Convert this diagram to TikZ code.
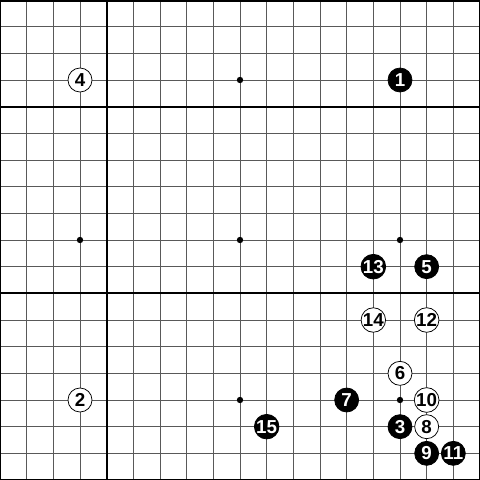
\documentclass[tikz,border=0pt]{standalone}
\usepackage{fontspec}
\setsansfont{Liberation Sans}
\usetikzlibrary{positioning}
\tikzset{
	gridline/.style={draw=black!65,line width=0.5pt},
	boldline/.style={draw=black,line width=0.9pt},
	stonetext/.style={font=\sffamily\bfseries\fontsize{10}{10}\selectfont},
	blackstone/.style={circle,fill=black,draw=black,text=white,inner sep=0pt,minimum size=0.45cm,stonetext},
	whitestone/.style={circle,fill=white,draw=black,line width=0.4pt,text=black,inner sep=0pt,minimum size=0.45cm,stonetext}
}
\begin{document}
\begin{tikzpicture}[x=0.5cm,y=-0.5cm]
		\useasboundingbox (0,0) rectangle (18,18);
		\fill[white] (0,0) rectangle (18,18);
		\foreach \i in {1,...,17}{
			\draw[gridline] (\i,0) -- (\i,18);
			\draw[gridline] (0,\i) -- (18,\i);
		}
		\draw[boldline] (4,0) -- (4,18);
		\draw[boldline] (0,4) -- (18,4);
		\draw[boldline] (0,11) -- (18,11);
		\draw[boldline,line width=1.6pt] (0,0) rectangle (18,18);
		\foreach \c in {3,9,15}
			\foreach \r in {3,9,15}
				\fill (\c,\r) circle (1.7pt);
		
		\foreach \n/\c/\r in {1/15/3,3/15/16,5/16/10,7/13/15,9/16/17,11/17/17,13/14/10,15/10/16}
			\node[blackstone] (s\n) at (\c,\r) {\n};
		\foreach \n/\c/\r in {2/3/15,4/3/3,6/15/14,8/16/16,10/16/15,12/16/12,14/14/12}
			\node[whitestone] (s\n) at (\c,\r) {\n};
	\end{tikzpicture}
\end{document}
